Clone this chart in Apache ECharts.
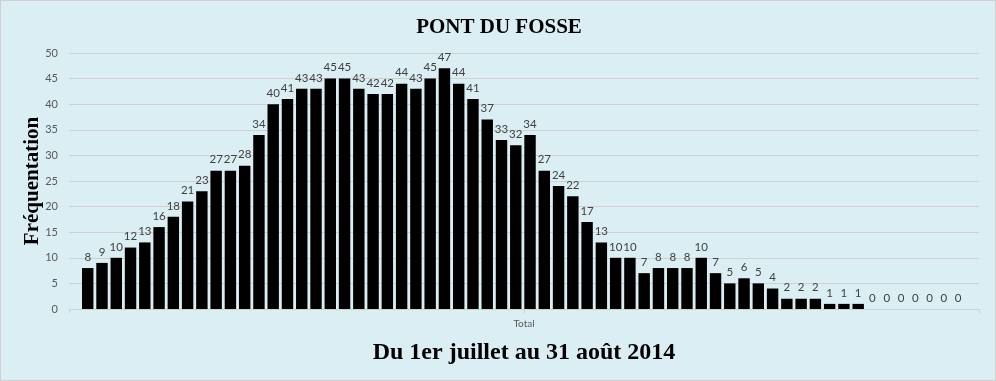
<!DOCTYPE html>
<html>
<head>
<meta charset="utf-8">
<script src="https://cdn.jsdelivr.net/npm/echarts@6/dist/echarts.min.js"></script>
<style>
html,body{margin:0;padding:0;background:#dbeef4;}
#c{width:996px;height:381px;box-sizing:border-box;border:1px solid #d0d0d0;}
</style>
</head>
<body>
<div id="c"></div>
<script>
const chartTitle = 'PONT DU FOSSE';
const xTitle = 'Du 1er juillet au 31 août 2014';
const yTitle = 'Fréquentation';
const groupLabel = ['Total'];
const values = [8,9,10,12,13,16,18,21,23,27,27,28,34,40,41,43,43,45,45,43,42,42,44,43,45,47,44,41,37,33,32,34,27,24,22,17,13,10,10,7,8,8,8,10,7,5,6,5,4,2,2,2,1,1,1,0,0,0,0,0,0,0];
const categories = values.map((v, i) => 'S' + (i + 1));
const yMin = 0, yMax = 50, yStep = 5;

const chart = echarts.init(document.getElementById('c'));
chart.setOption({
  backgroundColor: '#dbeef4',
  animation: false,
  title: [{
    text: chartTitle, left: 493, textAlign: 'center', top: 11,
    textStyle: {fontFamily: 'Liberation Serif', fontWeight: 'bold', fontSize: 21, color: '#000'}
  }, {
    text: xTitle, left: 518, textAlign: 'center', top: 335,
    textStyle: {fontFamily: 'Liberation Serif', fontWeight: 'bold', fontSize: 24, color: '#000'}
  }],
  grid: [
    {left: 79.6, right: 29.8, top: 52, bottom: 71},
    {left: 68, right: 16, top: 52, bottom: 71}
  ],
  xAxis: [
    {gridIndex: 0, type: 'category', data: categories, axisLine: {show: false}, axisTick: {show: false}, axisLabel: {show: false}},
    {gridIndex: 1, type: 'category', data: groupLabel, position: 'bottom',
     axisLine: {show: true, lineStyle: {color: '#d0d0d0'}},
     axisTick: {show: true, alignWithLabel: true, length: 4, lineStyle: {color: '#d0d0d0'}},
     axisLabel: {color: '#595959', fontSize: 10, margin: 10, fontFamily: 'Lato'}},
    {gridIndex: 1, type: 'category', data: groupLabel, position: 'bottom',
     axisLine: {show: false},
     axisTick: {show: true, length: 4, lineStyle: {color: '#d0d0d0'}},
     axisLabel: {show: false}}
  ],
  yAxis: [
    {gridIndex: 0, type: 'value', min: yMin, max: yMax, interval: yStep, show: false},
    {gridIndex: 1, type: 'value', min: yMin, max: yMax, interval: yStep,
     name: yTitle, nameLocation: 'middle', nameGap: 26, nameRotate: 90, nameMoveOverlap: false,
     nameTextStyle: {fontFamily: 'Liberation Serif', fontWeight: 'bold', fontSize: 21, color: '#000'},
     axisLine: {show: false}, axisTick: {show: false},
     axisLabel: {color: '#595959', fontSize: 11, margin: 11, fontFamily: 'Lato'},
     splitLine: {lineStyle: {color: '#d0d0d0'}}}
  ],
  series: [{
    type: 'bar', xAxisIndex: 0, yAxisIndex: 0, data: values,
    barCategoryGap: '20%',
    itemStyle: {color: '#000'},
    label: {show: true, position: 'top', distance: 5, color: '#404040', fontSize: 11.5, fontFamily: 'Lato'}
  }]
});
</script>
</body>
</html>
